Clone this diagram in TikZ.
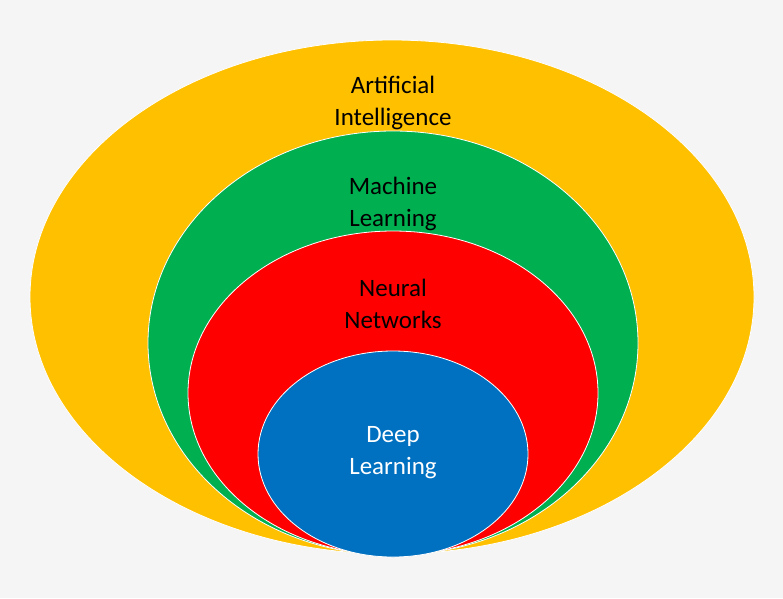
\documentclass[tikz,border=0pt]{standalone}
\usepackage{fontspec}
\setmainfont{Carlito}
\usetikzlibrary{shapes.geometric}
\definecolor{aiyellow}{HTML}{FFC000}
\definecolor{mlgreen}{HTML}{00B050}
\definecolor{nnred}{HTML}{FF0000}
\definecolor{dlblue}{HTML}{0070C0}
\tikzset{
    field/.style={
           ellipse,
           draw=white, thick,
           inner sep=0pt,
           },
    caption/.style={
           align=center,
           font=\fontsize{25}{32}\selectfont,
           },
}
\begin{document}
\begin{tikzpicture}[x=1pt,y=-1pt]

 % background of the slide
 \fill[gray!8] (0,0) rectangle (783,598);
 \useasboundingbox (0,0) rectangle (783,598);

 % nested fields, outer to inner
 \node[field, fill=aiyellow, minimum width=724pt, minimum height=514pt] (AI) at (392,297) {};
 \node[field, fill=mlgreen, minimum width=490pt, minimum height=424pt] (ML) at (393,343) {};
 \node[field, fill=nnred, minimum width=410pt, minimum height=324pt] (NN) at (393,393) {};
 \node[field, fill=dlblue, minimum width=270pt, minimum height=206pt] (DL) at (393,454) {};

 % names of the fields
 \node[caption] (AItext) at (393,103) {Artificial\\Intelligence};
 \node[caption] (MLtext) at (393,204) {Machine\\Learning};
 \node[caption] (NNtext) at (393,304) {Neural\\Networks};
 \node[caption, text=white] (DLtext) at (393,453) {Deep\\Learning};

\end{tikzpicture}
\end{document}
